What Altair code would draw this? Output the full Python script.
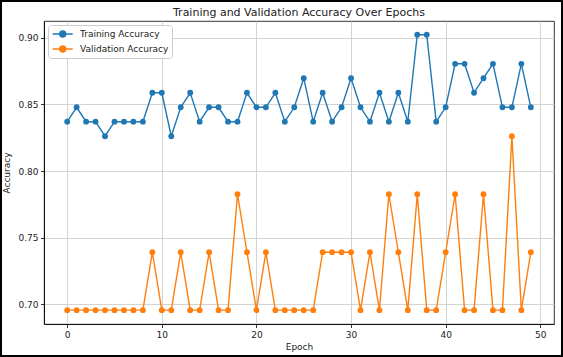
import altair as alt
import pandas as pd

epochs = list(range(50))
train_acc = [0.8370, 0.8478, 0.8370, 0.8370, 0.8261, 0.8370, 0.8370, 0.8370, 0.8370, 0.8587,
             0.8587, 0.8261, 0.8478, 0.8587, 0.8370, 0.8478, 0.8478, 0.8370, 0.8370, 0.8587,
             0.8478, 0.8478, 0.8587, 0.8370, 0.8478, 0.8696, 0.8370, 0.8587, 0.8370, 0.8478,
             0.8696, 0.8478, 0.8370, 0.8587, 0.8370, 0.8587, 0.8370, 0.9022, 0.9022, 0.8370,
             0.8478, 0.8804, 0.8804, 0.8587, 0.8696, 0.8804, 0.8478, 0.8478, 0.8804, 0.8478]
val_acc = [0.6957, 0.6957, 0.6957, 0.6957, 0.6957, 0.6957, 0.6957, 0.6957, 0.6957, 0.7391,
           0.6957, 0.6957, 0.7391, 0.6957, 0.6957, 0.7391, 0.6957, 0.6957, 0.7826, 0.7391,
           0.6957, 0.7391, 0.6957, 0.6957, 0.6957, 0.6957, 0.6957, 0.7391, 0.7391, 0.7391,
           0.7391, 0.6957, 0.7391, 0.6957, 0.7826, 0.7391, 0.6957, 0.7826, 0.6957, 0.6957,
           0.7391, 0.7826, 0.6957, 0.6957, 0.7826, 0.6957, 0.6957, 0.8261, 0.6957, 0.7391]
series_names = ["Training Accuracy", "Validation Accuracy"]
series_colors = ["#1f77b4", "#ff7f0e"]
x_ticks = [0, 10, 20, 30, 40, 50]
y_ticks = [0.70, 0.75, 0.80, 0.85, 0.90]
title_text = "Training and Validation Accuracy Over Epochs"

df = pd.DataFrame({
    "Epoch": epochs + epochs,
    "Accuracy": train_acc + val_acc,
    "Series": [series_names[0]] * len(epochs) + [series_names[1]] * len(epochs),
})

FONT = "DejaVu Sans"
legend_path = "M-0.86,0L3.14,0M0.54,0a0.6,0.6 0 1,0 1.2,0a0.6,0.6 0 1,0 -1.2,0Z"

lines = alt.Chart(df).mark_line(
    strokeWidth=1.4,
    point=alt.OverlayMarkDef(filled=True, size=34, opacity=1),
).encode(
    x=alt.X("Epoch:Q", scale=alt.Scale(domain=[-2.45, 51.45], nice=False, zero=False),
            axis=alt.Axis(values=x_ticks, format="d", title="Epoch")),
    y=alt.Y("Accuracy:Q", scale=alt.Scale(domain=[0.6853, 0.9125], nice=False, zero=False),
            axis=alt.Axis(values=y_ticks, format=".2f", title="Accuracy")),
    color=alt.Color("Series:N", scale=alt.Scale(domain=series_names, range=series_colors),
                    legend=alt.Legend(
                        orient="none", legendX=4, legendY=4, title=None,
                        symbolType=legend_path, symbolSize=100, symbolStrokeWidth=1.4,
                        labelFont=FONT, labelFontSize=9, labelColor="#222222",
                        padding=3, rowPadding=3, labelOffset=17,
                        fillColor="white", strokeColor="#cccccc", cornerRadius=3,
                        symbolOpacity=1,
                    )),
    order=alt.Order("Epoch:Q"),
)

title = alt.Chart(alt.Data(values=[{"t": title_text}])).mark_text(
    font=FONT, fontSize=11, color="#222222", align="center", baseline="middle"
).encode(
    text="t:N", x=alt.value(255), y=alt.value(-8.5)
)

frame = alt.Chart(alt.Data(values=[{}])).mark_rect(
    filled=False, stroke="black", strokeWidth=2
).encode(
    x=alt.value(-43), x2=alt.value(518), y=alt.value(-20), y2=alt.value(335)
)

chart = alt.layer(lines, title, frame).properties(
    width=510, height=303,
    autosize=alt.AutoSizeParams(type="none"),
    padding={"left": 44, "top": 21, "right": 9, "bottom": 33},
    background="white",
).configure_view(
    stroke="black", strokeWidth=0.8
).configure_axis(
    labelFont=FONT, labelFontSize=9, labelColor="#222222",
    titleFont=FONT, titleFontSize=9, titleFontWeight="normal", titleColor="#222222",
    domainColor="black", domainWidth=0.8,
    tickColor="black", tickSize=3.5, tickWidth=0.8,
    gridColor="#c8c8c8", gridWidth=0.8, labelPadding=2.5,
).configure_axisX(
    titlePadding=3,
).configure_axisY(
    titlePadding=6,
)

chart.save("out.html", embed_options={"renderer": "svg", "actions": False})
